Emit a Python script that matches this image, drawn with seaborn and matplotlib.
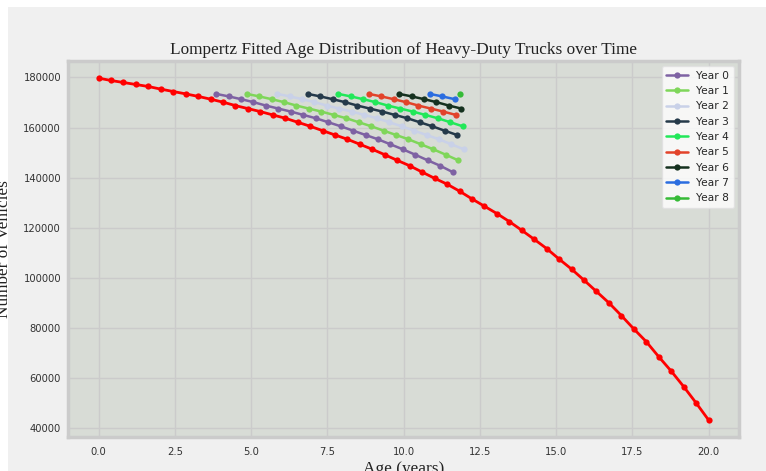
import numpy as np
import matplotlib
matplotlib.use("Agg")
import matplotlib.pyplot as plt
from matplotlib.patches import Rectangle
import seaborn as sns

# --- data ---
# fitted curve, 50 ages evenly spaced from 0 to 20
AGES = np.linspace(0, 20, 50)
FITTED_VEHICLES = [
    179760, 178800, 178000, 177200, 176400, 175350, 174400, 173450, 172450, 171340,
    170140, 168770, 167570, 166370, 165040, 163720, 162120, 160510, 158750, 157020,
    155300, 153290, 151290, 149120, 146880, 144710, 142190, 139700, 137370, 134570,
    131480, 128550, 125620, 122420, 118930, 115320, 111630, 107420, 103410, 99000,
    94470, 89930, 84840, 79510, 74420, 68400, 62670, 56490, 49950, 43140,
]

# each year line re-uses the fitted curve from index 7 on, shifted by year+1
YEAR_LABELS = ["Year 0", "Year 1", "Year 2", "Year 3", "Year 4",
               "Year 5", "Year 6", "Year 7", "Year 8"]
YEAR_SHIFT = [1, 2, 3, 4, 5, 6, 7, 8, 9]
YEAR_POINTS = [20, 18, 16, 13, 11, 8, 6, 3, 1]
START_IDX = 7

YEAR_COLORS = ["#7e62a3", "#7fd65a", "#c9d1e8", "#253a4a", "#22e859",
               "#e2432a", "#15311f", "#2b6de0", "#36bb37"]

# --- style ---
sns.set_theme(style="whitegrid")
plt.rcParams["font.family"] = ["DejaVu Sans"]
plt.rcParams.update({
    "xtick.labelsize": 7.2,
    "ytick.labelsize": 7.2,
    "xtick.color": "#333333",
    "ytick.color": "#333333",
    "xtick.major.size": 0,
    "ytick.major.size": 0,
    "xtick.major.pad": 7,
    "ytick.major.pad": 5,
})

fig = plt.figure(figsize=(7.66, 4.71), dpi=100)
fig.patch.set_facecolor("white")
fig.patches.append(Rectangle((8 / 766, 0), 1, 464 / 471, transform=fig.transFigure,
                             facecolor="#f0f0f0", edgecolor="none", zorder=-10))

ax = fig.add_axes([68 / 766, 1 - 437 / 471, (739 - 68) / 766, (437 - 61) / 471])
ax.set_facecolor("#d8dcd6")
for sp in ax.spines.values():
    sp.set_color("#cbcbcb")
    sp.set_linewidth(2.5)
ax.grid(True, color="#cbcbcb", linewidth=1)

sns.lineplot(x=AGES, y=FITTED_VEHICLES, marker="o", color="#ff0000",
             linewidth=2, markersize=4.5, markeredgewidth=0, ax=ax)

for lab, shift, n, col in zip(YEAR_LABELS, YEAR_SHIFT, YEAR_POINTS, YEAR_COLORS):
    x = AGES[START_IDX:START_IDX + n] + shift
    y = FITTED_VEHICLES[START_IDX:START_IDX + n]
    sns.lineplot(x=x, y=y, marker="o", color=col, label=lab,
                 linewidth=1.8, markersize=4.5, markeredgewidth=0, ax=ax)

ax.set_title("Lompertz Fitted Age Distribution of Heavy-Duty Trucks over Time",
             family="Liberation Serif", fontsize=12.4, color="#222222", pad=5)
ax.set_xlabel("Age (years)", family="Liberation Serif", fontsize=12.4, color="#222222")
ax.set_ylabel("Number of Vehicles", family="Liberation Serif", fontsize=12.4, color="#222222")
ax.xaxis.set_label_coords(0.5, -0.064)
ax.yaxis.set_label_coords(-0.084, 0.5)

ax.set_xticks([0, 2.5, 5, 7.5, 10, 12.5, 15, 17.5, 20])
ax.set_xticklabels(["0.0", "2.5", "5.0", "7.5", "10.0", "12.5", "15.0", "17.5", "20.0"])

leg = ax.legend(loc="upper right", fontsize=7.7, frameon=True, borderaxespad=0.5)
leg.get_frame().set_facecolor("white")
leg.get_frame().set_edgecolor("#e0e0e0")

fig.savefig("out.png", dpi=100)
